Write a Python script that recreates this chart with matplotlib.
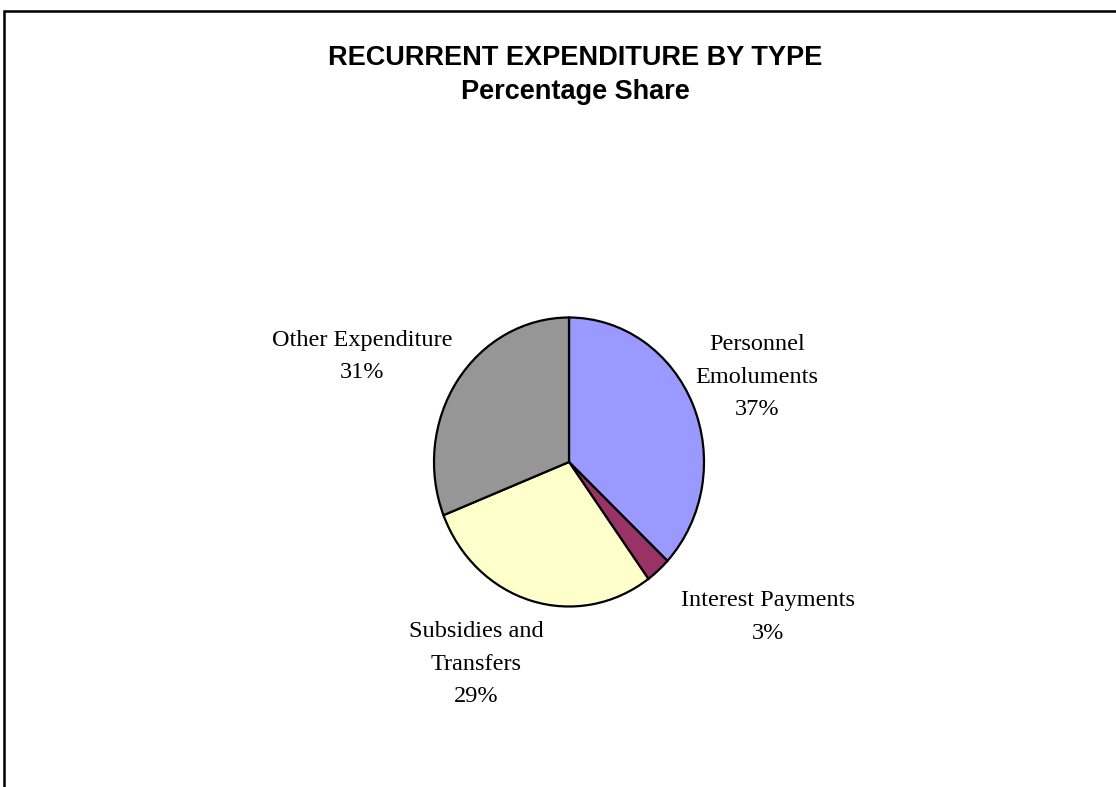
import matplotlib
matplotlib.use("Agg")
import matplotlib.pyplot as plt
from matplotlib.patches import Rectangle

# Recurrent expenditure shares (%)
categories = ["Personnel\nEmoluments", "Interest Payments", "Subsidies and\nTransfers", "Other Expenditure"]
shares = [37, 3, 29, 31]
colors = ["#9999FF", "#993366", "#FFFFCC", "#969696"]

# label anchor points in pie data units (unit radius)
label_pos = [(1.393, 0.588), (1.474, -1.073), (-0.689, -1.398), (-1.53, 0.73)]

W, H, DPI = 1116, 787, 100
fig = plt.figure(figsize=(W / DPI, H / DPI), dpi=DPI)
fig.patch.set_facecolor("white")

# chart-area border (runs off the right and bottom edges)
fig.add_artist(Rectangle((4 / W, -0.05), 1.2, 1 - 11 / H + 0.05,
                         transform=fig.transFigure, fill=False,
                         edgecolor="black", linewidth=1.8))

fig.text(575 / W, 1 - 58 / H, "RECURRENT EXPENDITURE BY TYPE",
         ha="center", va="center", fontsize=19.5, fontweight="bold",
         family="Liberation Sans")
fig.text(575 / W, 1 - 92 / H, "Percentage Share",
         ha="center", va="center", fontsize=19.5, fontweight="bold",
         family="Liberation Sans")

# pie axes: centre (569, 462) px, radii 135 x 144.5 px
cx, cy, rx, ry = 569, 462, 135, 144.5
lim = 1.25
ax = fig.add_axes([(cx - lim * rx) / W, (H - cy - lim * ry) / H,
                   2 * lim * rx / W, 2 * lim * ry / H])
ax.pie(shares, colors=colors, startangle=90, counterclock=False,
       wedgeprops=dict(edgecolor="black", linewidth=1.6))
ax.set_aspect("auto")
ax.set_xlim(-lim, lim)
ax.set_ylim(-lim, lim)
ax.axis("off")

for name, val, (x, y) in zip(categories, shares, label_pos):
    ax.text(x, y, f"{name}\n{val}%", ha="center", va="center",
            fontsize=17.5, family="Liberation Serif", linespacing=1.7,
            clip_on=False)

fig.savefig("out.png", dpi=DPI)
